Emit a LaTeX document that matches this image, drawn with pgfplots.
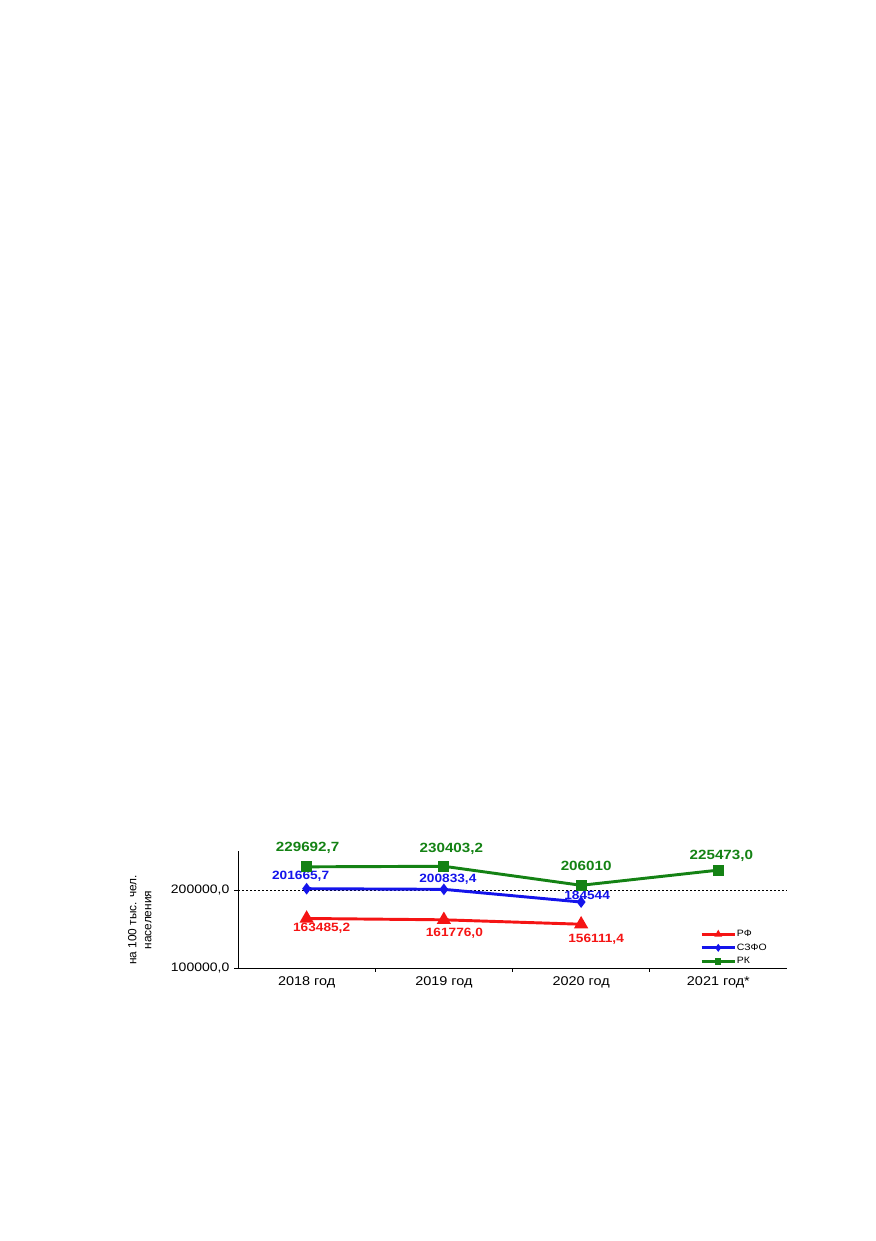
\documentclass[border=0pt]{standalone}
\usepackage{fontspec}
\setmainfont{Liberation Sans}[FakeStretch=1.14, BoldFont={Liberation Sans Bold}, BoldFeatures={FakeStretch=1.14}]
\newfontfamily\yfont{Liberation Sans}
\newfontfamily\lblfont{Liberation Sans Bold}[FakeStretch=1.14]
\usepackage{pgfplots}
\usepackage{pgfplotstable}
\pgfplotsset{compat=1.18}
\definecolor{cgreen}{RGB}{20,130,20}
\definecolor{cblue}{RGB}{20,20,235}
\definecolor{cred}{RGB}{245,20,20}

\pgfplotstableread{
x y lab dx dy
0 163485.2 163485,2 15 -10
1 161776.0 161776,0 10.5 -13
2 156111.4 156111,4 15 -15
}\rf
\pgfplotstableread{
x y lab dx dy
0 201665.7 201665,7 -6 12
1 200833.4 200833,4 4 10
2 184544 184544 6 7
}\szfo
\pgfplotstableread{
x y lab dx dy
0 229692.7 229692,7 1 19
1 230403.2 230403,2 7.5 17
2 206010 206010 5 19
3 225473.0 225473,0 3 14
}\rk

\begin{document}
\begin{tikzpicture}[x=1pt,y=1pt]
\path[use as bounding box] (0,0) rectangle (656.25,930.75);
\begin{axis}[
  at={(178.5pt,204.75pt)}, anchor=south west,
  scale only axis, width=411.75pt, height=87.75pt,
  xmin=-0.5, xmax=3.5, ymin=100000, ymax=250000,
  scaled y ticks=false,
  axis lines=left, axis line style={-, black, line width=0.6pt},
  xtick={0,1,2,3}, xticklabels={2018 год, 2019 год, 2020 год, 2021 год*},
  minor xtick={0.5,1.5,2.5},
  ytick={100000,200000}, yticklabels={{100000,0},{200000,0}},
  tick align=outside, major tick length=3pt, minor tick length=3pt,
  major x tick style={draw=none},
  minor x tick style={black, line width=0.6pt},
  major y tick style={black, line width=0.6pt},
  x tick label style={font=\fontsize{9.5}{11}\selectfont},
  y tick label style={font=\fontsize{9.2}{11}\selectfont},
  ymajorgrids,
  y grid style={black, line width=0.4pt, dash pattern=on 1.5pt off 1.5pt},
  ylabel={на 100 тыс. чел.\\населения},
  ylabel style={at={(axis description cs:-0.179,0.41)}, anchor=center, align=center, font=\yfont\fontsize{8.9}{11.25}\selectfont},
  legend style={at={(axis description cs:0.8415,0.333)}, anchor=north west, draw=none, fill=none,
    font=\fontsize{6.9}{8}\selectfont, inner sep=0pt, row sep=2.8pt,
    nodes={inner sep=0.6pt, text height=5pt, text depth=1.2pt}},
  legend cell align=left,
  legend image code/.code={\draw[#1, mark size=1.2pt, mark repeat=2, mark phase=2] plot coordinates {(0pt,0pt) (12.4pt,0pt) (24.75pt,0pt)};},
  clip=false,
  point meta=explicit symbolic,
  nodes near coords,
  visualization depends on={\thisrow{dx} \as \dx},
  visualization depends on={\thisrow{dy} \as \dy},
  every node near coord/.append style={anchor=center, inner sep=0pt, xshift={\dx*0.75pt}, yshift={\dy*0.75pt}},
]
\addplot[cred, line width=2.2pt, mark=triangle*, mark size=4pt, mark options={solid},
  every node near coord/.append style={font=\lblfont\fontsize{9}{10}\selectfont, text=cred}]
  table[x=x,y=y,meta=lab]{\rf};
\addlegendentry{РФ}
\addplot[cblue, line width=2.2pt, mark=diamond*, mark size=2.6pt,
  every node near coord/.append style={font=\lblfont\fontsize{9}{10}\selectfont, text=cblue}]
  table[x=x,y=y,meta=lab]{\szfo};
\addlegendentry{СЗФО}
\addplot[cgreen, line width=2.2pt, mark=square*, mark size=3pt,
  every node near coord/.append style={font=\lblfont\fontsize{10}{11}\selectfont, text=cgreen}]
  table[x=x,y=y,meta=lab]{\rk};
\addlegendentry{РК}
\end{axis}
\end{tikzpicture}
\end{document}
